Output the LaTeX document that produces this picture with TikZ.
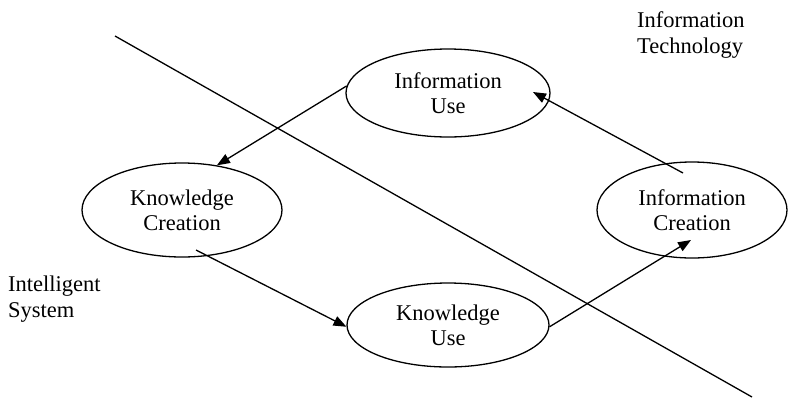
\documentclass[tikz,border=0pt]{standalone}
\usepackage{fontspec}
\setmainfont{Liberation Serif}
\usetikzlibrary{shapes.geometric,arrows.meta}
\begin{document}
\begin{tikzpicture}[x=1pt,y=-1pt,
  oval/.style={ellipse,draw,line width=1.3pt,inner sep=0pt,align=center,
    font=\fontsize{22.5}{25}\selectfont},
  lbl/.style={inner sep=0pt,align=left,anchor=north west,
    font=\fontsize{22.5}{26}\selectfont},
  conn/.style={line width=1.3pt,-{Triangle[length=13pt,width=10pt]}},
  divider/.style={line width=1.3pt}]
\useasboundingbox (0,0) rectangle (794,397);
\node[oval,minimum width=204pt,minimum height=88pt] (iu) at (448,93) {Information\\Use};
\node[oval,minimum width=200pt,minimum height=94pt] (kc) at (182,210) {Knowledge\\Creation};
\node[oval,minimum width=190pt,minimum height=96pt] (ic) at (692,210) {Information\\Creation};
\node[oval,minimum width=202pt,minimum height=84pt] (ku) at (448,325) {Knowledge\\Use};
\node[lbl] (it) at (637,11) {Information\\Technology};
\node[lbl] (is) at (8,276) {Intelligent\\System};
\coordinate (d1) at (115,36);
\coordinate (d2) at (752,397);
\draw[divider] (d1) -- (d2);
\coordinate (a2s) at (196,250);
\coordinate (a3e) at (691,240);
\coordinate (a4s) at (683,173);
\coordinate (a4e) at (533,92);
\draw[conn] (iu.176) -- (kc.52);
\draw[conn] (a2s) -- (ku.181);
\draw[conn] (ku.-1) -- (a3e);
\draw[conn] (a4s) -- (a4e);
\end{tikzpicture}
\end{document}
